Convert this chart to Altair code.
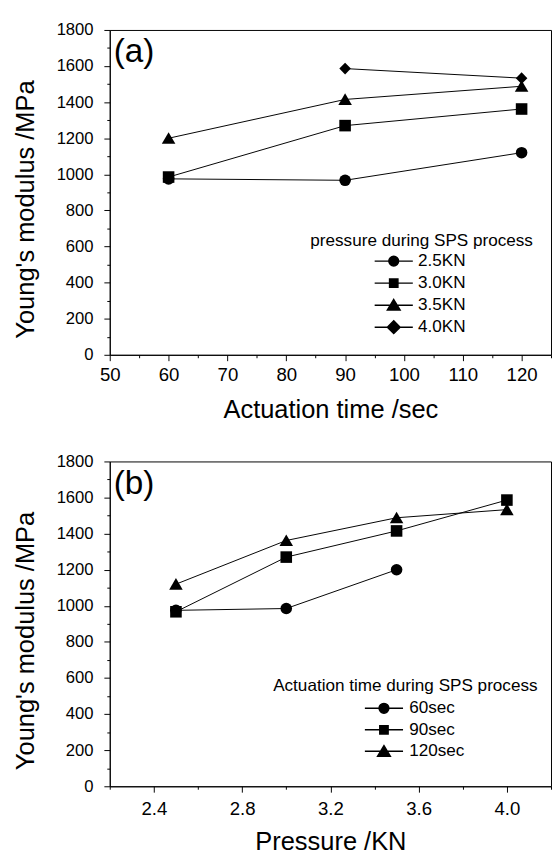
import altair as alt
import pandas as pd

# ---------------- data: panel (a) ----------------
time_sec = [60, 90, 120]
pressure_labels = ["2.5KN", "3.0KN", "3.5KN", "4.0KN"]
mod_25kn = [975, 967, 1120]
mod_30kn = [985, 1270, 1362]
mod_35kn = [1200, 1415, 1488]
mod_40kn = [None, 1586, 1533]

# ---------------- data: panel (b) ----------------
pressure_kn = [2.5, 3.0, 3.5, 4.0]
time_labels = ["60sec", "90sec", "120sec"]
mod_60s = [975, 985, 1200, None]
mod_90s = [967, 1270, 1415, 1586]
mod_120s = [1120, 1362, 1488, 1533]

# axis tick values
y_major = [0, 200, 400, 600, 800, 1000, 1200, 1400, 1600, 1800]
y_minor = [100, 300, 500, 700, 900, 1100, 1300, 1500, 1700]
xa_major = [50, 60, 70, 80, 90, 100, 110, 120]
xa_minor = [55, 65, 75, 85, 95, 105, 115, 125]
xb_major = [2.4, 2.8, 3.2, 3.6, 4.0]
xb_minor = [2.2, 2.6, 3.0, 3.4, 3.8, 4.2]


def long_df(xs, series_names, series_vals):
    rows = []
    for name, vals in zip(series_names, series_vals):
        for xv, yv in zip(xs, vals):
            if yv is not None:
                rows.append({"x": xv, "y": yv, "series": name})
    return pd.DataFrame(rows)


df_a = long_df(time_sec, pressure_labels, [mod_25kn, mod_30kn, mod_35kn, mod_40kn])
df_b = long_df(pressure_kn, time_labels, [mod_60s, mod_90s, mod_120s])

FONT = "Liberation Sans"
SHAPES = ["circle", "square", "M0,-1.05L1.17,0.95L-1.17,0.95Z", "diamond"]
LINE = "M-3.9,0H3.9"
LEG_PATHS = [
    LINE + "M1,0A1,1,0,1,1,-1,0A1,1,0,1,1,1,0Z",
    LINE + "M-0.85,-0.85H0.85V0.85H-0.85Z",
    LINE + "M0,-1.15L1.3,1.0L-1.3,1.0Z",
    LINE + "M0,-1.3L1.3,0L0,1.3L-1.3,0Z",
]

W, H = 451, 332


def panel(df, names, xdomain, xmajor, xminor, xfmt, xtitle, label,
          leg_title, leg_x, leg_y, sym_off, lab_off, row_pad, leg_tpad,
          x_labpad, x_titlepad):
    xs = alt.Scale(domain=xdomain, nice=False, zero=False)
    ys = alt.Scale(domain=[0, 1800], nice=False)
    n = len(names)

    minor = alt.Chart(df).mark_point(opacity=0).encode(
        x=alt.X("x:Q", scale=xs,
                axis=alt.Axis(values=xminor, labels=False, tickSize=3, domain=False,
                              title=None, grid=False, orient="bottom")),
        y=alt.Y("y:Q", scale=ys,
                axis=alt.Axis(values=y_minor, labels=False, tickSize=3, domain=False,
                              title=None, grid=False, orient="left")),
    )
    lines = alt.Chart(df).mark_line(color="black", strokeWidth=1).encode(
        x=alt.X("x:Q", scale=xs,
                axis=alt.Axis(values=xmajor, format=xfmt, tickSize=6, grid=False,
                              title=xtitle, orient="bottom", labelPadding=x_labpad,
                              labelFontSize=19, titlePadding=x_titlepad,
                              labelFlush=False)),
        y=alt.Y("y:Q", scale=ys,
                axis=alt.Axis(values=y_major, format="d", tickSize=6, grid=False,
                              orient="left", title="Young's modulus /MPa",
                              labelFontSize=17, labelPadding=11,
                              titlePadding=18, titleY=183, labelFlush=False)),
        detail="series:N",
    )
    points = alt.Chart(df).mark_point(filled=True, color="black", opacity=1, size=140).encode(
        x=alt.X("x:Q", scale=xs, axis=None),
        y=alt.Y("y:Q", scale=ys, axis=None),
        shape=alt.Shape("series:N", scale=alt.Scale(domain=names, range=SHAPES[:n]), legend=None),
    )
    leg = alt.Chart(df).transform_filter("false").mark_point(
        filled=True, fill="black", stroke="black", strokeWidth=1, opacity=1, size=100
    ).encode(
        shape=alt.Shape("series:N", scale=alt.Scale(domain=names, range=LEG_PATHS[:n]),
                        legend=alt.Legend(title=leg_title, orient="none", legendX=leg_x,
                                          legendY=leg_y, symbolOffset=sym_off,
                                          labelOffset=lab_off, rowPadding=row_pad,
                                          titlePadding=leg_tpad, padding=0,
                                          titleLimit=600, labelLimit=300)),
    )
    return alt.layer(minor, lines, points, leg).resolve_scale(
        shape="independent"
    ).resolve_axis(x="independent", y="independent").properties(
        width=W, height=H,
        title=alt.TitleParams(label, anchor="start", frame="group", fontSize=34,
                              font=FONT, fontWeight="normal", color="black",
                              baseline="top", dx=4, dy=49, offset=0),
    )


top = panel(df_a, pressure_labels, [50, 125], xa_major, xa_minor, "d",
            "Actuation time /sec", "(a)", "pressure during SPS process",
            205, 207, 76.5, 16, 3.5, 3, 5, 13)
bottom = panel(df_b, time_labels, [2.2, 4.2], xb_major, xb_minor, ".1f",
               "Pressure /KN", "(b)", "Actuation time during SPS process",
               167, 221, 104.5, 17, 3, 5, 8, 11)

chart = alt.vconcat(top, bottom, spacing=29).properties(
    padding={"left": 4, "top": 3, "right": 0, "bottom": 0}
).configure(
    font=FONT,
).configure_view(
    stroke="black", strokeWidth=1
).configure_axis(
    labelFont=FONT, labelColor="black",
    titleFont=FONT, titleFontSize=26, titleFontWeight="normal", titleColor="black",
    domainColor="black", tickColor="black", domainWidth=1, tickWidth=1,
).configure_legend(
    labelFont=FONT, labelFontSize=17.5, labelColor="black",
    titleFont=FONT, titleFontSize=17.5, titleFontWeight="normal", titleColor="black",
).configure_title(
    font=FONT, color="black"
)

chart.save("out.html", embed_options={"renderer": "svg", "actions": False})
